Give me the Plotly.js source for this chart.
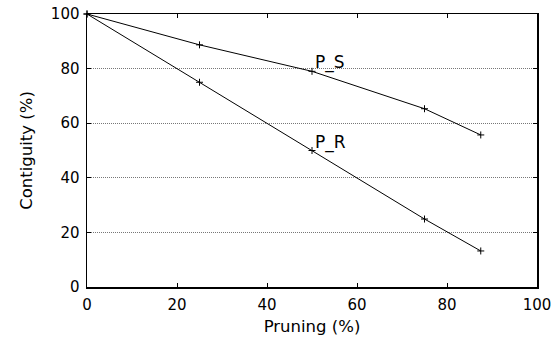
<!DOCTYPE html>
<html><head><meta charset="utf-8">
<script src="https://cdn.plot.ly/plotly-3.0.1.min.js"></script>
<style>body{margin:0;padding:0;background:#fff}#chart{width:554px;height:337px}</style>
</head><body><div id="chart"></div>
<script>
const pruning = [0, 25, 50, 75, 87.5];
const pS = [100, 88.7, 79, 65.3, 55.7];
const pR = [100, 75, 50, 24.9, 13.2];
const labels = ["P_S", "P_R"];
const labelX = [50.3, 50.3];
const labelY = [82.1, 52.8];

const lineStyle = {color: '#000', width: 1};
const markerStyle = {symbol: 'cross-thin', size: 5, color: '#000', line: {color: '#000', width: 1}};
const traces = [
  {x: pruning, y: pS, mode: 'lines+markers', line: lineStyle, marker: markerStyle, name: labels[0], cliponaxis: false},
  {x: pruning, y: pR, mode: 'lines+markers', line: lineStyle, marker: markerStyle, name: labels[1], cliponaxis: false}
];
const fam = 'DejaVu Sans, sans-serif';
const layout = {
  width: 554, height: 337,
  margin: {l: 87, r: 17, t: 14, b: 50},
  showlegend: false,
  paper_bgcolor: '#fff', plot_bgcolor: '#fff',
  font: {family: fam, size: 15, color: '#000'},
  xaxis: {
    range: [0, 100], tickvals: [0, 20, 40, 60, 80, 100],
    ticks: 'inside', ticklen: 4, tickcolor: '#000', mirror: 'allticks',
    showline: true, linecolor: '#000', linewidth: 1.5,
    showgrid: false, zeroline: false,
    tickfont: {size: 15}, ticklabelstandoff: 3,
    title: {text: 'Pruning (%)', font: {size: 16.5}, standoff: 8}
  },
  yaxis: {
    range: [0, 100], tickvals: [0, 20, 40, 60, 80, 100],
    ticks: 'inside', ticklen: 4, tickcolor: '#000', mirror: 'allticks',
    showline: true, linecolor: '#000', linewidth: 1.5,
    showgrid: true, gridcolor: '#777', griddash: '1px,1px', gridwidth: 1,
    zeroline: false,
    tickfont: {size: 15}, ticklabelstandoff: 3,
    title: {text: 'Contiguity (%)', font: {size: 16.5}, standoff: 14}
  },
  annotations: labels.map((t, i) => ({
    x: labelX[i], y: labelY[i], xref: 'x', yref: 'y', text: t, showarrow: false,
    xanchor: 'left', yanchor: 'middle', font: {size: 17, color: '#000', family: fam}
  }))
};
Plotly.newPlot('chart', traces, layout, {displayModeBar: false, staticPlot: true});
</script></body></html>
